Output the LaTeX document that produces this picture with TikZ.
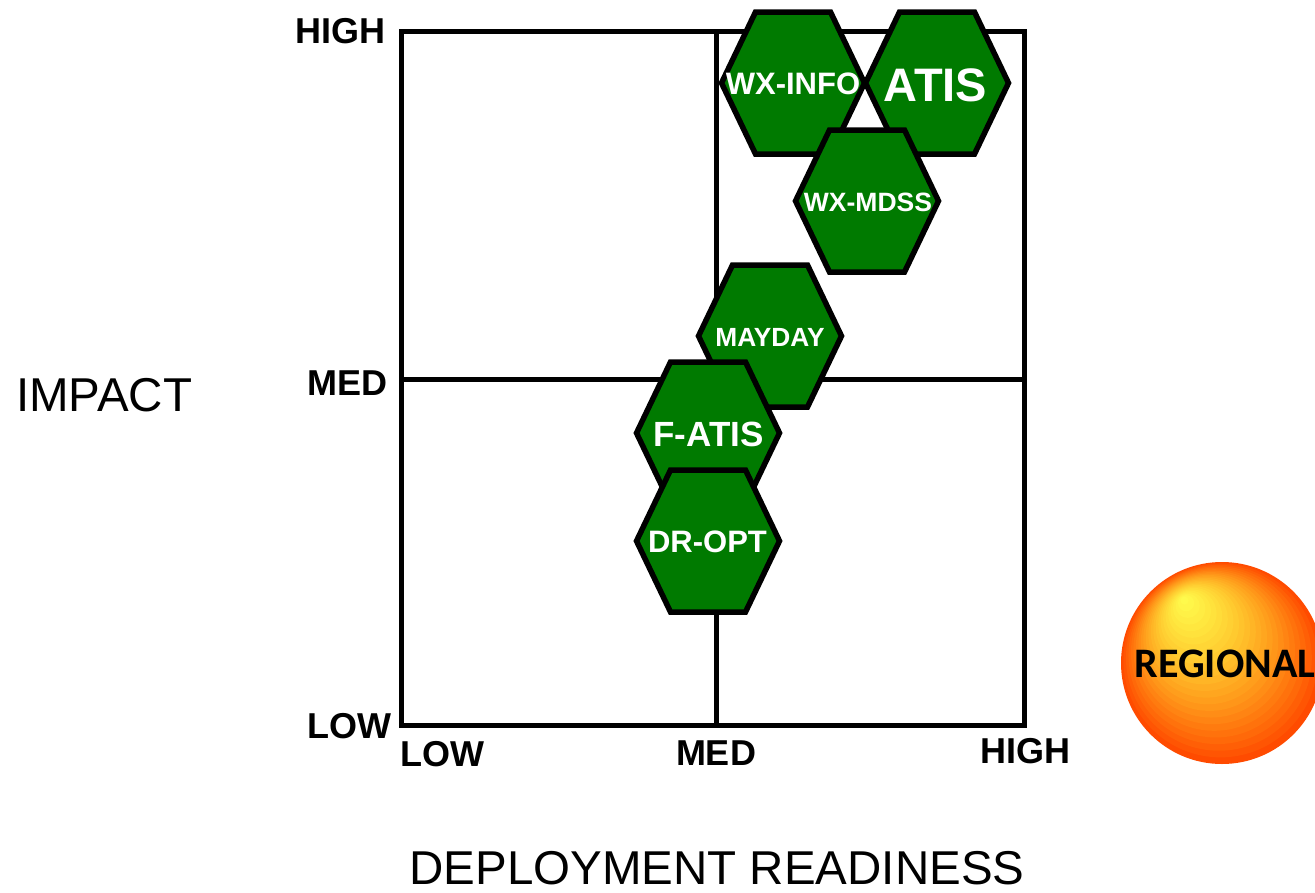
\documentclass[tikz,border=0pt]{standalone}
\usepackage{fontspec}
\setmainfont{Liberation Sans}
\newfontfamily\calibfont{Carlito}
\usetikzlibrary{calc}
\definecolor{hexgreen}{RGB}{0,122,0}
\tikzset{
  gridline/.style={line width=5pt, draw=black},
  hexline/.style={draw=black, fill=hexgreen, line width=5.5pt, line join=miter},
  hexa/.pic={\path[hexline] (-71.5,0)--(-37.5,-71)--(37.5,-71)--(71.5,0)--(37.5,71)--(-37.5,71)--cycle;},
  hexlabel/.style={text=white, inner sep=0pt, anchor=base, font=\bfseries\fontsize{#1}{#1}\selectfont},
  axislabel/.style={inner sep=0pt, font=\bfseries\fontsize{36}{36}\selectfont},
  titlelabel/.style={inner sep=0pt, font=\fontsize{47.5}{47.5}\selectfont},
  balllabel/.style={inner sep=0pt, anchor=base, font=\calibfont\bfseries\fontsize{42}{42}\selectfont},
}
\begin{document}
\begin{tikzpicture}[x=1pt,y=-1pt]
\useasboundingbox[fill=white] (0,0) rectangle (1315,892);
% grid
\coordinate (tl) at (401,31);
\coordinate (br) at (1024,725);
\coordinate (mt) at (716.5,31);
\coordinate (mb) at (716.5,725);
\coordinate (ml) at (401,379);
\coordinate (mr) at (1024,379);
\draw[gridline] (tl) rectangle (br);
\draw[gridline] (mt) -- (mb);
\draw[gridline] (ml) -- (mr);
% axis labels
\node[axislabel, anchor=base east] (yhigh) at (386,43) {HIGH};
\node[axislabel, anchor=base east] (ymed) at (388,395) {MED};
\node[axislabel, anchor=base east] (ylow) at (392,738) {LOW};
\node[axislabel, anchor=base west] (xlow) at (400,766) {LOW};
\node[axislabel, anchor=base] (xmed) at (716,765) {MED};
\node[axislabel, anchor=base] (xhigh) at (1025,763) {HIGH};
\node[titlelabel, anchor=base west] (impact) at (16,411) {IMPACT};
\node[titlelabel, anchor=base] (deploy) at (717,884) {DEPLOYMENT READINESS};
% hexagons
\pic at (793,83) {hexa};
\node[hexlabel=31] (wxinfo) at (793,94.5) {WX-INFO};
\pic at (937,83) {hexa};
\node[hexlabel=47] (atis) at (935.5,101.5) {ATIS};
\pic at (867,201) {hexa};
\node[hexlabel=26.5] (wxmdss) at (868,211) {WX-MDSS};
\pic at (770,336) {hexa};
\node[hexlabel=26.3] (mayday) at (770,346.5) {MAYDAY};
\pic at (708,433) {hexa};
\node[hexlabel=35] (fatis) at (708.5,446.5) {F-ATIS};
\pic at (708,541) {hexa};
\node[hexlabel=31] (dropt) at (707.5,552.5) {DR-OPT};
% regional ball
\coordinate (C) at (1222,663);
\coordinate (F) at (1183,598);
\foreach \i in {0,...,24}{
  \pgfmathsetmacro\tt{1-\i/25}
  \pgfmathtruncatemacro\gg{255-100*\tt-80*\tt*\tt}
  \pgfmathtruncatemacro\bb{80*(1-\tt)}
  \definecolor{ballc}{RGB}{255,\gg,\bb}
  \fill[ballc] ($(F)!\tt!(C)$) circle[radius=\tt*101];
}
\node[balllabel] (regional) at (1225,677) {REGIONAL};
\end{tikzpicture}
\end{document}
